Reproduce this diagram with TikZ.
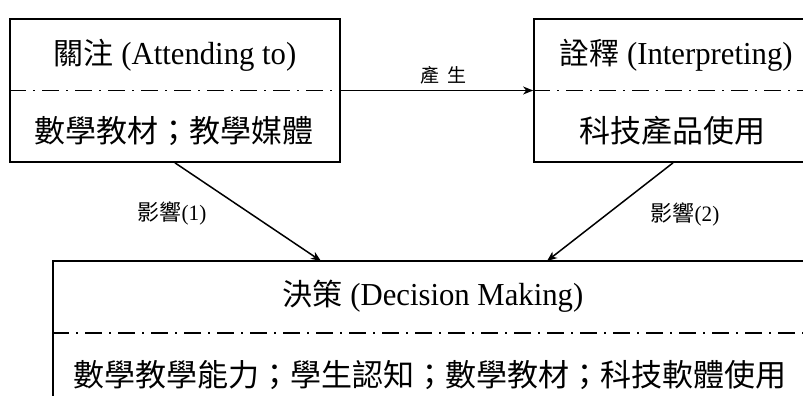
\documentclass[tikz,border=0pt]{standalone}
\usepackage{fontspec}
\setmainfont{Liberation Serif}[FakeStretch=0.96]
\newfontfamily\cjk{Noto Sans CJK TC}
\usetikzlibrary{arrows.meta}

\tikzset{
  box/.style={draw, line width=1.7pt, inner sep=0pt},
  dashdot/.style={line width=1.4pt, dash pattern=on 17pt off 7pt on 2pt off 7pt},
  arr/.style={line width=1.5pt, -{Stealth[length=10pt,width=8pt,inset=3pt]}},
  title/.style={font=\fontsize{32}{36}\selectfont, inner sep=0pt},
  body/.style={font=\cjk\fontsize{31}{34}\selectfont, inner sep=0pt},
  lbl/.style={font=\fontsize{22}{24}\selectfont, inner sep=0pt}
}

\begin{document}
\begin{tikzpicture}[x=1pt,y=-1pt]
  \path[use as bounding box] (0,0) rectangle (803,396);
  \clip (0,0) rectangle (803,396);

  % the three frames
  \node[box, minimum width=330pt, minimum height=143pt] (L) at (175,90.5) {};
  \node[box, minimum width=278pt, minimum height=143pt] (R) at (673,90.5) {};
  \node[box, minimum width=760pt, minimum height=158pt] (D) at (433,340) {};

  % dash-dot separators
  \coordinate (dl) at (53,333);
  \draw[dashdot] (L.west) -- (L.east);
  \draw[dashdot] (R.west) -- (R.east);
  \draw[dashdot] (D.west |- dl) -- (D.east |- dl);

  % headings and contents
  \node[title] (Lt) at (175,55) {{\cjk\fontsize{30}{34}\selectfont 關注} (Attending to)};
  \node[body]  (Lb) at (174,131) {數學教材；教學媒體};
  \node[title] (Rt) at (676,55) {{\cjk\fontsize{30}{34}\selectfont 詮釋} (Interpreting)};
  \node[body]  (Rb) at (672,131) {科技產品使用};
  \node[title] (Dt) at (433,296) {{\cjk\fontsize{30}{34}\selectfont 決策} (Decision Making)};
  \node[body]  (Db) at (430,375) {數學教學能力；學生認知；數學教材；科技軟體使用};

  % connectors
  \coordinate (e1) at (321,261);
  \coordinate (e2) at (547,261);
  \draw[arr] (L.east) -- (L.east -| R.west);
  \draw[arr] (L.south) -- (e1);
  \draw[arr] (R.south) -- (e2);

  % connector labels
  \node[lbl] (p)  at (443,75) {\cjk\fontsize{19}{20}\selectfont 產\hspace{8pt}生};
  \node[lbl] (i1) at (172,213) {{\cjk 影響}(1)};
  \node[lbl] (i2) at (685,214) {{\cjk 影響}(2)};
\end{tikzpicture}
\end{document}
